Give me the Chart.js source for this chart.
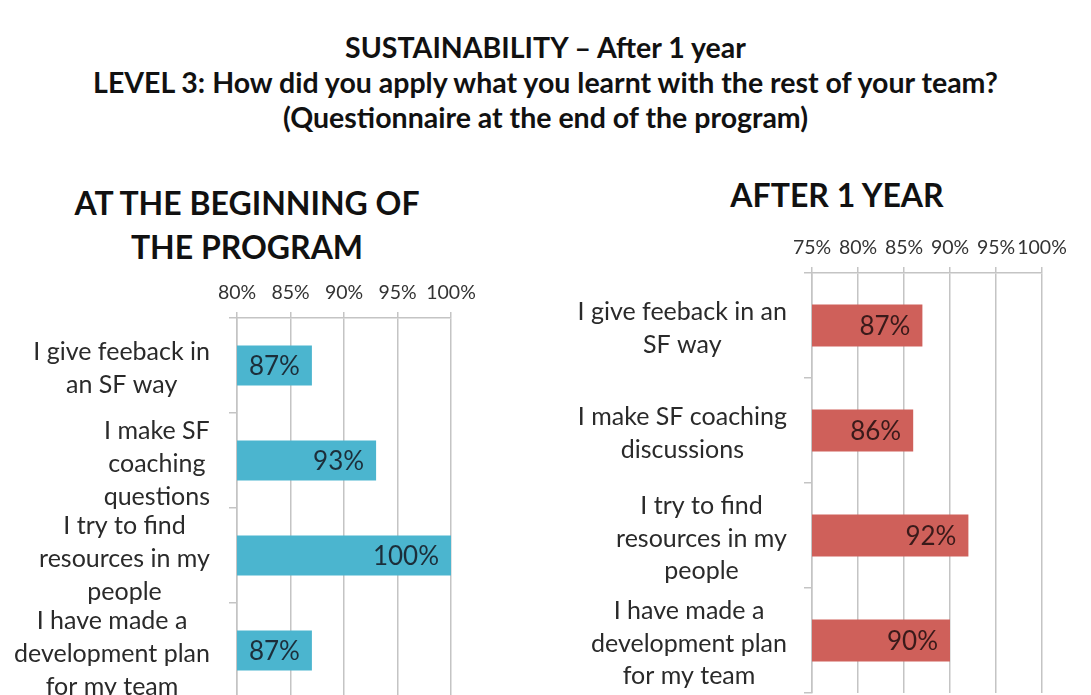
<!DOCTYPE html>
<html>
<head>
<meta charset="utf-8">
<script src="https://cdn.jsdelivr.net/npm/chart.js@4"></script>
<style>
  html, body { margin: 0; padding: 0; background: #fff; overflow: hidden; }
  body { width: 1091px; height: 695px; position: relative; font-family: Lato, sans-serif; color: #111; }
  #mainTitle { position: absolute; left: 0; top: 30px; width: 1091px; text-align: center;
    font-weight: bold; font-size: 28.5px; line-height: 35px; }
  .sub { position: absolute; text-align: center; font-weight: bold; font-size: 32px; line-height: 44px; }
  #subLeft { left: 0; width: 494px; top: 181px; }
  #subRight { left: 583px; width: 508px; top: 173px; }
  .box { position: absolute; top: 160px; height: 540px; }
  #boxLeft { left: 0; width: 496px; }
  #boxRight { left: 540px; width: 551px; }
</style>
</head>
<body>
<div id="mainTitle">
  SUSTAINABILITY – After 1 year<br>
  LEVEL 3: How did you apply what you learnt with the rest of your team?<br>
  (Questionnaire at the end of the program)
</div>
<div class="sub" id="subLeft">AT THE BEGINNING OF<br>THE PROGRAM</div>
<div class="sub" id="subRight">AFTER 1 YEAR</div>
<div class="box" id="boxLeft"><canvas id="chartBegin"></canvas></div>
<div class="box" id="boxRight"><canvas id="chartAfter"></canvas></div>

<script>
// dados do grafico da esquerda (inicio do programa)
const labelsBegin = [
  ["I give feeback in", "an SF way"],
  ["I make SF", "coaching", "questions"],
  ["I try to find", "resources in my", "people"],
  ["I have made a", "development plan", "for my team"]
];
const valuesBegin = [87, 93, 100, 87];

// dados do grafico da direita (depois de 1 ano)
const labelsAfter = [
  ["I give feeback in an", "SF way"],
  ["I make SF coaching", "discussions"],
  ["I try to find", "resources in my", "people"],
  ["I have made a", "development plan", "for my team"]
];
const valuesAfter = [87, 86, 92, 90];

const ticksBegin = { min: 80, max: 100, step: 5 };
const ticksAfter = { min: 75, max: 100, step: 5 };

const GRID = '#c4c4c4';
const FONT = 'Lato, sans-serif';

// desenha os rotulos das categorias (cada bloco centrado, alinhado a direita)
const categoryLabels = {
  id: 'categoryLabels',
  afterDraw(chart, args, opts) {
    const ctx = chart.ctx;
    const y = chart.scales.y;
    const labels = chart.data.labels;
    ctx.save();
    ctx.font = opts.size + 'px ' + FONT;
    ctx.fillStyle = '#2a2a2a';
    ctx.textAlign = 'center';
    ctx.textBaseline = 'middle';
    labels.forEach((lines, i) => {
      const py = y.getPixelForTick(i) + opts.shift;
      const w = Math.max(...lines.map(l => ctx.measureText(l).width));
      const cx = y.right - opts.gap - w / 2;
      const y0 = py - (lines.length - 1) * opts.lineGap / 2;
      lines.forEach((l, k) => ctx.fillText(l, cx, y0 + k * opts.lineGap));
    });
    ctx.restore();
  }
};

// rotulo de valor dentro da barra, perto do fim
const valueLabels = {
  id: 'valueLabels',
  afterDatasetsDraw(chart, args, opts) {
    const ctx = chart.ctx;
    const meta = chart.getDatasetMeta(0);
    ctx.save();
    ctx.font = opts.size + 'px ' + FONT;
    ctx.fillStyle = opts.color;
    ctx.textAlign = 'right';
    ctx.textBaseline = 'middle';
    meta.data.forEach((bar, i) => {
      ctx.fillText(chart.data.datasets[0].data[i] + '%', bar.x - 12, bar.y + 1);
    });
    ctx.restore();
  }
};

function makeChart(canvasId, labels, values, range, color, textColor, cfg) {
  const ctx = document.getElementById(canvasId).getContext('2d');
  return new Chart(ctx, {
    type: 'bar',
    data: {
      labels: labels,
      datasets: [{
        data: values,
        backgroundColor: color,
        borderWidth: 0,
        barPercentage: cfg.barPct,
        categoryPercentage: 1
      }]
    },
    options: {
      indexAxis: 'y',
      responsive: true,
      maintainAspectRatio: false,
      animation: false,
      layout: { padding: { left: cfg.padLeft, right: cfg.padRight, top: cfg.padTop, bottom: cfg.padBottom } },
      plugins: {
        legend: { display: false },
        tooltip: { enabled: false },
        categoryLabels: { size: 25, gap: cfg.labelGap, lineGap: cfg.lineGap, shift: 3 },
        valueLabels: { size: 26, color: textColor }
      },
      scales: {
        x: {
          position: 'top',
          min: range.min,
          max: range.max,
          afterFit(scale) { scale.height = cfg.xHeight; },
          ticks: {
            stepSize: range.step,
            callback: v => v + '%',
            color: '#333',
            font: { family: FONT, size: 19.5 },
            padding: 8,
            maxRotation: 0,
            minRotation: 0,
            autoSkip: false
          },
          grid: { color: GRID, lineWidth: 1.5, tickLength: 6 },
          border: { display: true, color: GRID, width: 1.5 }
        },
        y: {
          afterFit(scale) { scale.width = cfg.yWidth; },
          ticks: { display: false },
          grid: { drawOnChartArea: false, drawTicks: true, tickLength: 8, color: GRID, lineWidth: 1.5, offset: true },
          border: { display: true, color: GRID, width: 1.5 }
        }
      }
    },
    plugins: [categoryLabels, valueLabels]
  });
}

makeChart('chartBegin', labelsBegin, valuesBegin, ticksBegin, '#4bb5cf', '#1c2e3a',
  { barPct: 0.42, padLeft: 0, padRight: 45, padTop: 104.5, padBottom: 2, xHeight: 53.5, yWidth: 237,
    labelGap: 27, lineGap: 33 });

makeChart('chartAfter', labelsAfter, valuesAfter, ticksAfter, '#cf605a', '#3a1a1a',
  { barPct: 0.4, padLeft: 43, padRight: 49, padTop: 58.5, padBottom: 7, xHeight: 54.5, yWidth: 229,
    labelGap: 25, lineGap: 32.5 });
</script>
</body>
</html>
